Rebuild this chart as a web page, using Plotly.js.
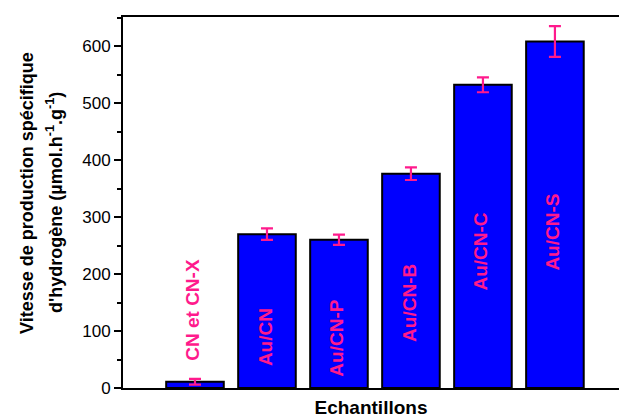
<!DOCTYPE html>
<html>
<head>
<meta charset="utf-8">
<script src="https://cdn.plot.ly/plotly-3.0.1.min.js"></script>
<style>html,body{margin:0;padding:0;background:#fff;}#chart{width:619px;height:419px;}</style>
</head>
<body>
<div id="chart"></div>
<script>
var categories = ["CN et CN-X", "Au/CN", "Au/CN-P", "Au/CN-B", "Au/CN-C", "Au/CN-S"];
var values = [11, 270, 260, 376, 532, 608];
var errors = [5, 10, 9, 11, 13, 27];
var labelY = [137, 89, 88, 149, 239, 274];
var yTicks = [0, 100, 200, 300, 400, 500, 600];
var yTitleLines = ["Vitesse de production spécifique", "d'hydrogène (µmol.h<sup>-1</sup>.g<sup>-1</sup>)"];

var xIdx = categories.map(function(c, i){ return i; });
var FONT = 'Arial, Liberation Sans, sans-serif';

var trace = {
  type: 'bar',
  x: xIdx,
  y: values,
  width: 0.8,
  marker: {color: '#0000ff', line: {color: '#000000', width: 2}},
  error_y: {type: 'data', array: errors, visible: true, color: '#ff1a8c', thickness: 2.2, width: 6},
  hoverinfo: 'none'
};

var annotations = categories.map(function(c, i){
  return {
    x: xIdx[i] - 0.03, y: labelY[i], xref: 'x', yref: 'y',
    text: c, showarrow: false, textangle: -90,
    font: {family: FONT, size: 19, color: '#ff1a8c', weight: 'bold'}
  };
});
annotations.push({
  x: -0.1935, y: 0.526, xref: 'paper', yref: 'paper', xanchor: 'center', yanchor: 'middle',
  text: '<b>' + yTitleLines[0] + '</b>', showarrow: false, textangle: -90,
  font: {family: FONT, size: 18, color: '#000'}
});
annotations.push({
  x: -0.137, y: 0.499, xref: 'paper', yref: 'paper', xanchor: 'center', yanchor: 'middle',
  text: '<b>' + yTitleLines[1] + '</b>', showarrow: false, textangle: -90,
  font: {family: FONT, size: 18, color: '#000'}
});

var layout = {
  width: 619, height: 419,
  margin: {l: 123, r: 0, t: 17, b: 31},
  paper_bgcolor: '#ffffff', plot_bgcolor: '#ffffff',
  showlegend: false,
  font: {family: FONT, color: '#000'},
  xaxis: {
    range: [-1, 5.89], showline: true, linecolor: '#000', linewidth: 2, mirror: true,
    showgrid: false, zeroline: false, ticks: '', showticklabels: false,
    title: {text: '<b>Echantillons</b>', font: {size: 19, color: '#000'}, standoff: 12}
  },
  yaxis: {
    range: [0, 651], showline: true, linecolor: '#000', linewidth: 2,
    showgrid: false, zeroline: false,
    tickmode: 'array', tickvals: yTicks, ticktext: yTicks.map(String),
    ticks: 'outside', ticklen: 7, tickwidth: 2, tickcolor: '#000',
    tickfont: {size: 17, color: '#000'},
    minor: {dtick: 50, ticks: 'outside', ticklen: 4, tickwidth: 2, tickcolor: '#000'}
  },
  annotations: annotations
};

Plotly.newPlot('chart', [trace], layout, {staticPlot: true, displayModeBar: false});
</script>
</body>
</html>
